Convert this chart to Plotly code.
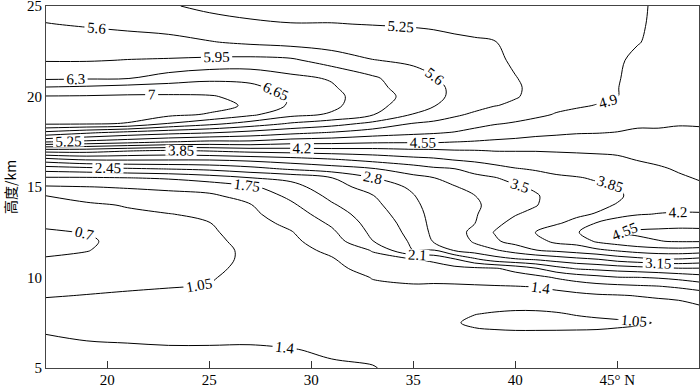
import plotly.graph_objects as go

# Latitude (deg N) and height (km) of the grid
lat = [17, 19, 21, 23, 25, 27, 29, 31, 33, 35, 36, 37, 38, 39, 40, 41, 42, 43, 44, 45, 46, 47, 48, 49]
height = [5, 6, 7, 7.5, 8, 9, 9.5, 10, 10.5, 11, 11.5, 12, 12.5, 13, 13.5, 14, 14.5, 15,
          15.5, 16, 16.5, 17, 17.5, 18, 18.5, 19, 19.5, 20, 20.5, 21, 22, 23, 24, 25]

# Field values, one row per height (values estimated from the contour lines)
h05_0 = [1.5, 1.48, 1.46, 1.45, 1.45, 1.45, 1.43, 1.43, 1.41, 1.33, 1.3, 1.25, 1.22, 1.2, 1.18, 1.18, 1.18, 1.18, 1.19, 1.2, 1.2, 1.22, 1.23, 1.25]
h06_0 = [1.46, 1.44, 1.43, 1.42, 1.42, 1.42, 1.41, 1.37, 1.35, 1.28, 1.25, 1.2, 1.17, 1.14, 1.12, 1.12, 1.12, 1.12, 1.13, 1.14, 1.15, 1.16, 1.18, 1.22]
h07_0 = [1.39, 1.36, 1.35, 1.34, 1.34, 1.35, 1.3, 1.27, 1.28, 1.24, 1.2, 1.14, 1.1, 1.08, 1.07, 1.07, 1.07, 1.07, 1.07, 1.08, 1.09, 1.11, 1.14, 1.2]
h07_5 = [1.3, 1.28, 1.28, 1.28, 1.29, 1.3, 1.25, 1.24, 1.26, 1.22, 1.17, 1.08, 0.99, 0.96, 0.94, 0.94, 0.95, 0.97, 0.99, 1.01, 1.03, 1.06, 1.13, 1.2]
h08_0 = [1.21, 1.2, 1.21, 1.22, 1.23, 1.25, 1.2, 1.21, 1.26, 1.28, 1.18, 1.1, 1.06, 1.03, 1.01, 1.01, 1.03, 1.07, 1.1, 1.12, 1.15, 1.18, 1.2, 1.26]
h09_0 = [1.03, 1.06, 1.08, 1.1, 1.1, 1.17, 1.16, 1.21, 1.32, 1.35, 1.3, 1.26, 1.25, 1.24, 1.24, 1.25, 1.28, 1.32, 1.36, 1.38, 1.41, 1.44, 1.47, 1.55]
h09_5 = [0.95, 0.98, 1.02, 1.04, 1.06, 1.15, 1.16, 1.23, 1.36, 1.38, 1.37, 1.36, 1.37, 1.38, 1.39, 1.41, 1.48, 1.56, 1.63, 1.66, 1.7, 1.73, 1.8, 1.9]
h10_0 = [0.87, 0.9, 0.96, 1.0, 1.03, 1.13, 1.17, 1.26, 1.41, 1.45, 1.46, 1.5, 1.52, 1.55, 1.59, 1.64, 1.78, 1.9, 1.99, 2.08, 2.09, 2.13, 2.2, 2.3]
h10_5 = [0.79, 0.83, 0.9, 0.97, 1.0, 1.11, 1.2, 1.31, 1.53, 1.6, 1.6, 1.65, 1.68, 1.72, 1.86, 2.07, 2.32, 2.48, 2.54, 2.6, 2.66, 2.72, 2.78, 2.78]
h11_0 = [0.72, 0.76, 0.84, 0.93, 0.97, 1.1, 1.24, 1.37, 1.65, 1.73, 1.82, 2.05, 2.38, 2.64, 2.76, 2.83, 2.95, 3.05, 3.13, 3.29, 3.38, 3.47, 3.47, 3.4]
h11_5 = [0.65, 0.69, 0.8, 0.9, 0.95, 1.11, 1.28, 1.47, 1.77, 2.46, 2.43, 2.82, 2.97, 3.11, 3.3, 3.49, 3.57, 3.66, 3.77, 3.89, 4.0, 4.06, 4.08, 4.04]
h12_0 = [0.6, 0.65, 0.82, 0.92, 0.97, 1.15, 1.33, 1.58, 2.09, 2.51, 2.83, 2.9, 3.2, 3.45, 3.62, 3.72, 3.93, 3.98, 4.25, 4.38, 4.48, 4.54, 4.57, 4.57]
h12_5 = [0.67, 0.71, 0.87, 0.96, 1.0, 1.2, 1.38, 1.69, 2.17, 2.56, 2.88, 2.95, 3.28, 3.52, 3.7, 3.86, 4.0, 4.17, 4.4, 4.56, 4.6, 4.62, 4.64, 4.63]
h13_0 = [0.75, 0.8, 0.93, 1.0, 1.04, 1.27, 1.48, 1.8, 2.23, 2.6, 2.91, 2.98, 3.14, 3.42, 3.6, 3.72, 3.82, 3.93, 4.23, 4.35, 4.42, 4.43, 4.44, 4.44]
h13_5 = [0.85, 0.9, 1.0, 1.04, 1.11, 1.33, 1.58, 1.93, 2.29, 2.66, 2.92, 3.0, 3.12, 3.3, 3.48, 3.6, 3.73, 3.8, 3.87, 4.1, 4.18, 4.21, 4.22, 4.22]
h14_0 = [0.96, 1.0, 1.07, 1.17, 1.23, 1.38, 1.69, 2.06, 2.36, 2.72, 2.94, 3.02, 3.1, 3.25, 3.38, 3.48, 3.67, 3.74, 3.78, 3.87, 4.05, 4.1, 4.13, 4.12]
h14_5 = [1.04, 1.16, 1.24, 1.3, 1.34, 1.52, 1.82, 2.18, 2.43, 2.78, 2.98, 3.05, 3.14, 3.28, 3.37, 3.46, 3.66, 3.71, 3.75, 3.8, 3.96, 4.03, 4.08, 4.1]
h15_0 = [1.36, 1.39, 1.43, 1.47, 1.53, 1.69, 1.97, 2.31, 2.59, 2.86, 3.05, 3.12, 3.28, 3.36, 3.45, 3.56, 3.72, 3.77, 3.8, 3.83, 3.99, 4.05, 4.11, 4.15]
h15_5 = [1.71, 1.71, 1.74, 1.79, 1.92, 2.09, 2.19, 2.44, 2.79, 3.05, 3.14, 3.3, 3.41, 3.48, 3.62, 3.72, 3.8, 3.83, 3.88, 3.92, 4.05, 4.1, 4.16, 4.22]
h16_0 = [2.25, 2.32, 2.4, 2.46, 2.53, 2.67, 2.85, 2.98, 3.12, 3.33, 3.44, 3.49, 3.61, 3.74, 3.83, 3.88, 3.93, 3.97, 4.0, 4.02, 4.12, 4.16, 4.23, 4.29]
h16_5 = [2.99, 3.16, 3.17, 3.16, 3.16, 3.23, 3.33, 3.45, 3.6, 3.73, 3.78, 3.86, 3.92, 3.98, 4.03, 4.04, 4.08, 4.1, 4.12, 4.13, 4.21, 4.26, 4.3, 4.36]
h17_0 = [3.99, 3.99, 3.87, 3.8, 3.87, 3.96, 4.0, 4.04, 4.06, 4.12, 4.13, 4.17, 4.18, 4.21, 4.21, 4.21, 4.22, 4.23, 4.24, 4.27, 4.3, 4.35, 4.38, 4.42]
h17_5 = [5.28, 5.16, 5.05, 4.92, 4.83, 4.84, 4.71, 4.68, 4.62, 4.6, 4.6, 4.56, 4.53, 4.5, 4.48, 4.44, 4.42, 4.4, 4.4, 4.41, 4.42, 4.45, 4.46, 4.49]
h18_0 = [6.2, 6.0, 5.83, 5.71, 5.62, 5.48, 5.34, 5.22, 5.07, 4.97, 4.93, 4.88, 4.8, 4.72, 4.67, 4.63, 4.6, 4.57, 4.56, 4.54, 4.52, 4.52, 4.52, 4.53]
h18_5 = [7.05, 7.04, 6.98, 6.63, 6.4, 6.16, 5.91, 5.74, 5.51, 5.23, 5.18, 5.11, 5.0, 4.92, 4.87, 4.8, 4.73, 4.7, 4.66, 4.64, 4.58, 4.58, 4.56, 4.56]
h19_0 = [7.25, 7.2, 7.15, 7.08, 6.97, 6.72, 6.4, 6.26, 5.97, 5.58, 5.43, 5.3, 5.2, 5.08, 5.02, 4.96, 4.88, 4.83, 4.77, 4.73, 4.65, 4.63, 4.6, 4.58]
h19_5 = [7.22, 7.2, 7.18, 7.15, 7.12, 6.95, 6.6, 6.38, 6.07, 5.76, 5.62, 5.45, 5.35, 5.26, 5.2, 5.1, 4.97, 4.93, 4.89, 4.82, 4.7, 4.67, 4.63, 4.6]
h20_0 = [7.02, 7.03, 7.05, 7.05, 7.03, 6.9, 6.62, 6.4, 6.1, 5.84, 5.68, 5.54, 5.44, 5.33, 5.27, 5.18, 5.05, 5.0, 4.95, 4.91, 4.74, 4.71, 4.66, 4.63]
h20_5 = [6.67, 6.71, 6.78, 6.81, 6.82, 6.73, 6.51, 6.34, 6.05, 5.79, 5.68, 5.54, 5.44, 5.35, 5.28, 5.19, 5.1, 5.04, 4.98, 4.91, 4.77, 4.74, 4.68, 4.65]
h21_0 = [6.25, 6.27, 6.29, 6.45, 6.57, 6.56, 6.39, 6.27, 6.01, 5.71, 5.62, 5.5, 5.42, 5.34, 5.26, 5.18, 5.1, 5.05, 5.0, 4.92, 4.8, 4.77, 4.7, 4.67]
h22_0 = [5.93, 5.93, 5.96, 5.98, 6.02, 6.05, 6.01, 5.79, 5.61, 5.55, 5.5, 5.4, 5.36, 5.3, 5.21, 5.14, 5.09, 5.04, 5.0, 4.93, 4.85, 4.82, 4.74, 4.7]
h23_0 = [5.76, 5.74, 5.73, 5.7, 5.62, 5.54, 5.48, 5.44, 5.42, 5.38, 5.36, 5.31, 5.28, 5.26, 5.16, 5.1, 5.06, 5.02, 4.99, 4.94, 4.91, 4.85, 4.77, 4.72]
h24_0 = [5.61, 5.57, 5.52, 5.47, 5.37, 5.29, 5.26, 5.26, 5.24, 5.22, 5.2, 5.18, 5.17, 5.12, 5.08, 5.05, 5.02, 4.99, 4.97, 4.95, 4.92, 4.87, 4.79, 4.74]
h25_0 = [5.48, 5.45, 5.42, 5.28, 5.18, 5.15, 5.12, 5.12, 5.1, 5.08, 5.07, 5.05, 5.03, 5.02, 5.0, 4.98, 4.97, 4.96, 4.95, 4.96, 4.92, 4.88, 4.8, 4.75]

rows = [h05_0, h06_0, h07_0, h07_5, h08_0, h09_0, h09_5, h10_0, h10_5, h11_0, h11_5,
        h12_0, h12_5, h13_0, h13_5, h14_0, h14_5, h15_0, h15_5, h16_0, h16_5, h17_0,
        h17_5, h18_0, h18_5, h19_0, h19_5, h20_0, h20_5, h21_0, h22_0, h23_0, h24_0, h25_0]

# Contour levels and axis ticks
level_start, level_end, level_step = 0.7, 7.01, 0.35
x_tick_vals = [20, 25, 30, 35, 40, 45]
x_tick_text = ["20", "25", "30", "35", "40", "45° N"]
y_tick_vals = [5, 10, 15, 20, 25]
y_title = "高度/km"

serif = "Liberation Serif, Times New Roman, serif"

fig = go.Figure(go.Contour(
    x=lat, y=height, z=rows,
    contours=dict(start=level_start, end=level_end, size=level_step,
                  coloring="lines", showlabels=True,
                  labelfont=dict(family=serif, size=15, color="black"),
                  labelformat=".3~g"),
    colorscale=[[0, "black"], [1, "black"]],
    line=dict(width=1, smoothing=1),
    showscale=False,
    hoverinfo="skip",
))

fig.update_layout(
    width=700, height=387,
    margin=dict(l=46, r=1, t=6, b=19, autoexpand=False),
    paper_bgcolor="white", plot_bgcolor="white",
    showlegend=False,
    xaxis=dict(range=[17, 49], tickvals=x_tick_vals, ticktext=x_tick_text,
               ticks="inside", ticklen=7, tickcolor="#333", tickwidth=1,
               showline=True, linecolor="#444", linewidth=1, mirror=True,
               showgrid=False, zeroline=False, automargin=False,
               ticklabelstandoff=-2, ticklabeloverflow="allow",
               tickfont=dict(family=serif, size=15, color="black")),
    yaxis=dict(range=[5, 25], tickvals=y_tick_vals, ticks="",
               showline=True, linecolor="#444", linewidth=1, mirror=True,
               showgrid=False, zeroline=False, automargin=False,
               ticklabeloverflow="allow",
               tickfont=dict(family=serif, size=15, color="black"),
               title=dict(text=y_title, standoff=14,
                          font=dict(family="Noto Sans CJK SC", size=14, color="black"))),
)

# remove the default page margin so the figure sits at the window's top-left corner
fig.write_html("out.html",
               config={"displayModeBar": False, "staticPlot": True},
               post_script="document.body.style.margin='0';document.body.style.padding='0';"
                           "document.body.style.overflow='hidden';")
